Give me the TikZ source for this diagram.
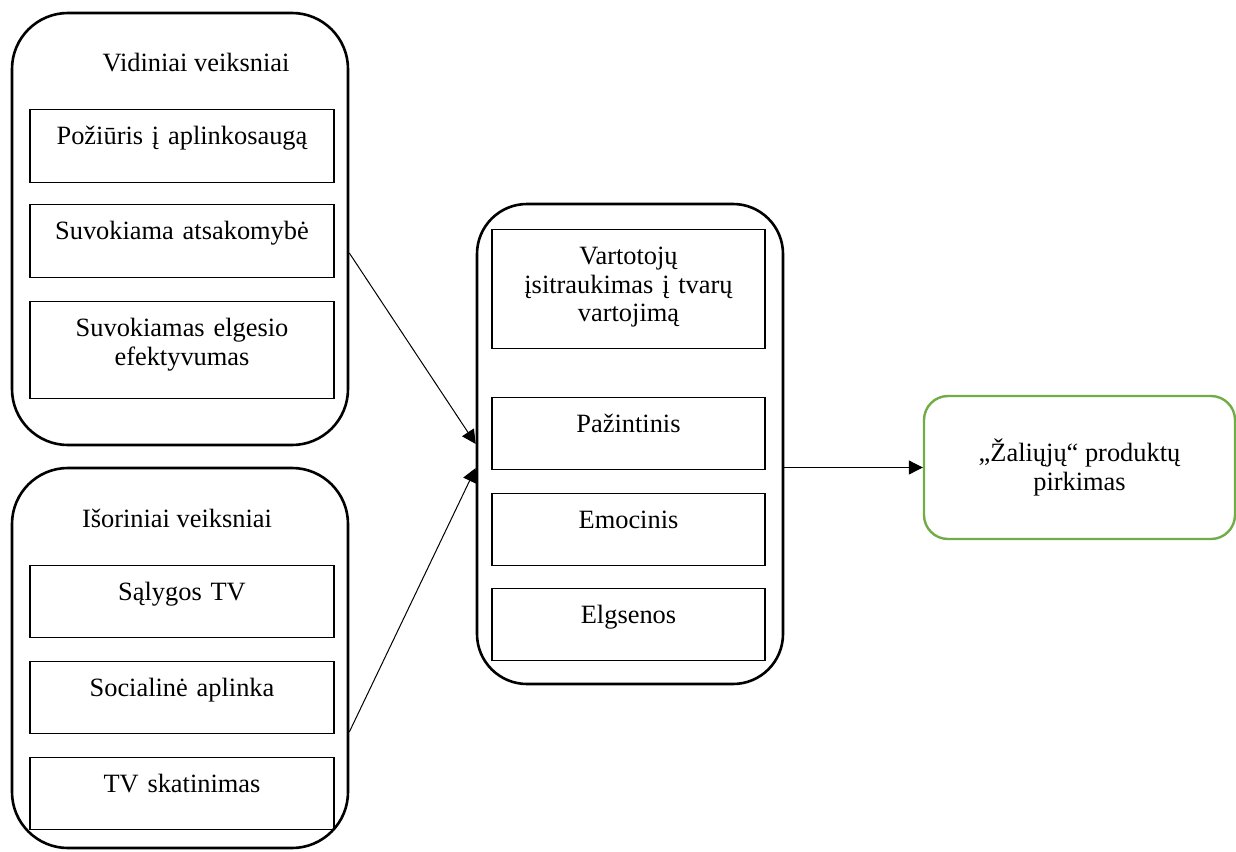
\documentclass[tikz,border=0pt]{standalone}
\usepackage{fontspec}
\setmainfont{Liberation Serif}
\usetikzlibrary{arrows.meta,positioning}
\definecolor{greenline}{RGB}{112,173,71}
\tikzset{
  txt/.style    ={font=\fontsize{13.2pt}{14.2pt}\selectfont},
  groupbox/.style={draw, line width=1.3pt, rounded corners=#1, inner sep=0pt},
  inbox/.style  ={draw, line width=0.7pt, txt, align=center, inner sep=0pt,
                  text width=152pt, text height=17.5pt, text depth=#1,
                  anchor=north},
  inbox/.default=19pt,
  midbox/.style ={inbox=#1, text width=136.5pt},
  midbox/.default=18.5pt,
  gtitle/.style ={txt, anchor=base, inner sep=0pt},
  resbox/.style ={draw=greenline, line width=1.2pt, rounded corners=12pt,
                  txt, align=center, inner sep=0pt,
                  minimum width=155.5pt, minimum height=71.5pt},
  arr/.style    ={-{Triangle[length=7pt,width=7pt]}, line width=0.5pt},
}
\begin{document}
\begin{tikzpicture}[x=0.5pt,y=-0.5pt]
\useasboundingbox (0,0) rectangle (1236,851);

%% ─── Vidiniai veiksniai ──────────────────────────────────────────────────────
\node[groupbox=28pt, minimum width=168pt, minimum height=216pt] (vid) at (180,229) {};
\node[gtitle] (vidT) at (196,71) {Vidiniai veiksniai};
\node[inbox]      (v1) at (182,109) {Požiūris į aplinkosaugą};
\node[inbox]      (v2) at (182,204) {Suvokiama atsakomybė};
\node[inbox=31pt] (v3) at (182,301) {Suvokiamas elgesio\\efektyvumas};

%% ─── Išoriniai veiksniai ─────────────────────────────────────────────────────
\node[groupbox=28pt, minimum width=168pt, minimum height=190pt] (isor) at (180,658) {};
\node[gtitle] (isorT) at (177,527) {Išoriniai veiksniai};
\foreach \i/\y/\t in {1/565/{Sąlygos TV}, 2/661/{Socialinė aplinka}, 3/757/{TV skatinimas}}{
  \node[inbox=18.5pt] (i\i) at (182,\y) {\t};
}

%% ─── Vartotojų įsitraukimas ──────────────────────────────────────────────────
\node[groupbox=25pt, minimum width=153pt, minimum height=240pt] (mid) at (630,444) {};
\node[midbox=42pt] (m1) at (628.5,229) {Vartotojų\\įsitraukimas į tvarų\\vartojimą};
\node[midbox]      (m2) at (628.5,397) {Pažintinis};
\node[midbox]      (m3) at (628.5,493) {Emocinis};
\node[midbox]      (m4) at (628.5,588) {Elgsenos};

%% ─── Rezultatas ──────────────────────────────────────────────────────────────
\node[resbox] (green) at (1079.5,467.5) {„Žaliųjų“ produktų\\pirkimas};

%% ─── Rodyklės ────────────────────────────────────────────────────────────────
\draw[arr] ([yshift=-12pt]vid.east) -- (mid.west);
\draw[arr] ([yshift=-37pt]isor.east) -- ([yshift=-12pt]mid.west);
\draw[arr] (green.west -| mid.east) -- (green.west);

\end{tikzpicture}
\end{document}
